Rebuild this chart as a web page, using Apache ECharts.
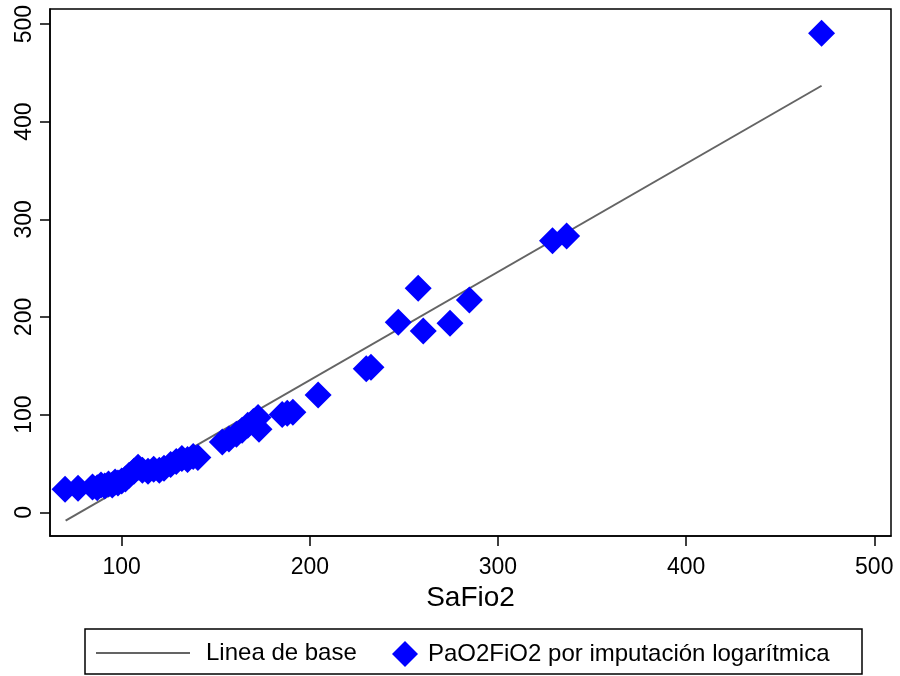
<!DOCTYPE html>
<html>
<head>
<meta charset="utf-8">
<script src="https://cdn.jsdelivr.net/npm/echarts@6/dist/echarts.min.js"></script>
<style>
    html, body { margin: 0; padding: 0; background: #fff; }
    #chart { width: 900px; height: 676px; }
</style>
</head>
<body>
<div id="chart"></div>
<script>
// SaFio2 vs PaO2FiO2 (imputación logarítmica)
var safiX = [69.9, 76.8, 84.5, 87, 89, 91, 93, 95, 96.5, 98, 100, 102, 104, 106.5, 108.7, 111, 114, 117, 120, 122.5,
    126, 129, 132, 135, 138, 140.5, 153.5, 157, 161, 164, 167, 170, 172.5, 173, 185.3, 188, 191, 204.4,
    230, 232.5, 247, 257.6, 260.3, 274.5, 284.8, 329, 336.5, 472];
var pafiY = [23.5, 24.6, 26, 25, 28, 27, 29, 28, 31, 30, 32, 34, 38, 42, 46, 43, 42, 44, 43, 45,
    49, 52, 55, 54, 57, 56, 72, 75, 80, 84, 89, 93, 97, 85, 100, 101.5, 102.5, 120,
    147, 148.5, 194.6, 229.4, 185.6, 193.5, 217.4, 278, 283, 490.5];
// linea de base (extremos)
var baseX = [70.2, 472];
var baseY = [-8.6, 436.8];
var xTicks = [100, 200, 300, 400, 500];
var yTicks = [0, 100, 200, 300, 400, 500];

var font = 'Liberation Sans';
var chart = echarts.init(document.getElementById('chart'));

var scatterData = safiX.map(function (x, i) { return [x, pafiY[i]]; });
var lineData = baseX.map(function (x, i) { return [x, baseY[i]]; });

var option = {
    animation: false,
    backgroundColor: '#fff',
    textStyle: { fontFamily: font, color: '#000' },
    grid: {
        left: 50, right: 9, top: 9, bottom: 140,
        show: true,
        borderColor: '#000',
        borderWidth: 1.5,
        backgroundColor: '#fff'
    },
    legend: [
        {
            left: 96, top: 641, padding: 0,
            itemWidth: 94, itemHeight: 2,
            textStyle: { fontFamily: font, fontSize: 24, color: '#000', padding: [0, 0, 0, 11] },
            data: [{ name: 'Linea de base', icon: 'rect' }]
        },
        {
            left: 392, top: 641, padding: 0,
            itemWidth: 26, itemHeight: 26,
            textStyle: { fontFamily: font, fontSize: 24, color: '#000', padding: [0, 0, 0, 5] },
            data: ['PaO2FiO2 por imputación logarítmica']
        }
    ],
    graphic: [{
        type: 'rect',
        shape: { x: 85, y: 629, width: 777, height: 45 },
        style: { fill: 'none', stroke: '#000', lineWidth: 1.5 },
        silent: true
    }],
    xAxis: {
        type: 'value',
        min: 61.9, max: 508.9,
        name: 'SaFio2',
        nameLocation: 'middle',
        nameGap: 48,
        nameTextStyle: { fontFamily: font, fontSize: 28, color: '#000' },
        axisLine: { onZero: false, lineStyle: { color: '#000', width: 1.5 } },
        axisTick: { length: 10, lineStyle: { color: '#000', width: 1.5 }, customValues: xTicks },
        axisLabel: { fontFamily: font, fontSize: 23, color: '#000', margin: 20, customValues: xTicks },
        splitLine: { show: false }
    },
    yAxis: {
        type: 'value',
        min: -24.3, max: 515.4,
        axisLine: { show: true, onZero: false, lineStyle: { color: '#000', width: 1.5 } },
        axisTick: { show: true, length: 10, lineStyle: { color: '#000', width: 1.5 }, customValues: yTicks },
        axisLabel: { fontFamily: font, fontSize: 23, color: '#000', rotate: 90, margin: 14, customValues: yTicks },
        splitLine: { show: false }
    },
    series: [
        {
            name: 'Linea de base',
            type: 'line',
            data: lineData,
            symbol: 'none',
            lineStyle: { color: '#646464', width: 2 },
            itemStyle: { color: '#646464' },
            z: 2
        },
        {
            name: 'PaO2FiO2 por imputación logarítmica',
            type: 'scatter',
            data: scatterData,
            symbol: 'diamond',
            symbolSize: 27,
            itemStyle: { color: '#0000ff', opacity: 1 },
            z: 3
        }
    ]
};
chart.setOption(option);
</script>
</body>
</html>
